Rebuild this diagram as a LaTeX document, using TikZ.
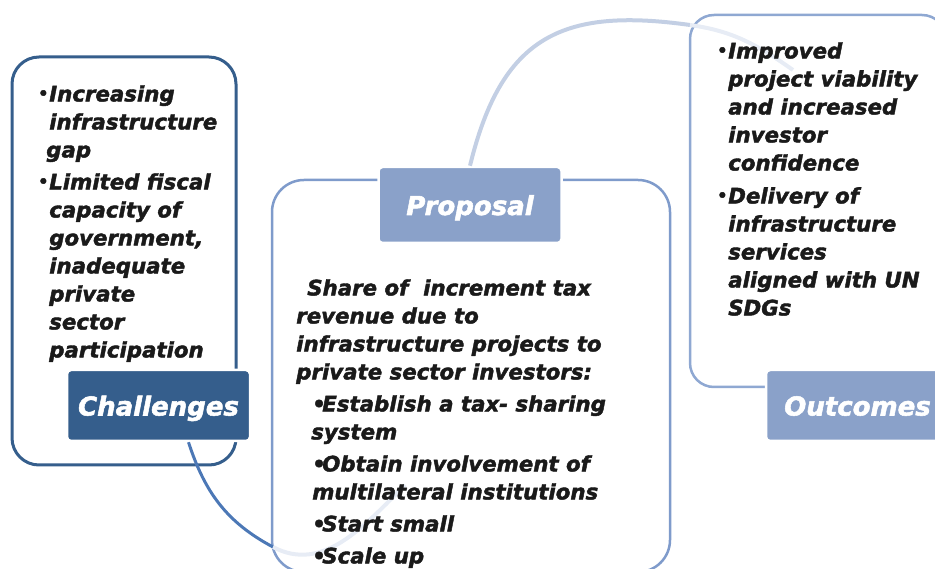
\documentclass[tikz,border=0pt]{standalone}
\usepackage{fontspec}
\setmainfont{DejaVu Sans}[BoldItalicFont={DejaVu Sans Bold Oblique},BoldItalicFeatures={FakeBold=2}]
\usepackage{tikz}
\usetikzlibrary{positioning}
\usepackage{xcolor}
\definecolor{darkblue}{HTML}{355E8C}
\definecolor{midblue}{HTML}{7F9BCB}
\definecolor{lightblue}{HTML}{8FA8D2}
\definecolor{tagblue}{HTML}{8AA1C9}
\definecolor{arcblue}{HTML}{4C78B6}
\definecolor{paleblue}{HTML}{C3CFE4}
\definecolor{fadeblue}{HTML}{E7ECF5}
\definecolor{ink}{HTML}{1A1A1A}
\newcommand{\bul}{\makebox[12pt][l]{\hspace{1pt}\raisebox{2.5pt}{\fontsize{16}{16}\selectfont\textbullet}}}
\newcommand{\dotitem}{\makebox[10pt][l]{\textbullet}}

\begin{document}
\begin{tikzpicture}[x=1pt,y=1pt,line width=2.5pt,
        box node/.style={rectangle,draw,rounded corners=#1,inner sep=0pt},
        tag node/.style={rectangle,draw=white,line width=2.5pt,rounded corners=4pt,
          minimum width=183pt,minimum height=71pt,inner sep=0pt,text=white,
          text height=20pt,text depth=0pt,
          font=\fontsize{26}{30}\selectfont\bfseries\itshape},
        text node/.style={anchor=north west,align=left,inner sep=0pt,text=ink,
          font=\fontsize{21.3}{28}\selectfont\bfseries\itshape}]

    \useasboundingbox (0,0) rectangle (935,568);

    \node[box node=27pt,draw=darkblue,line width=3pt,minimum width=224pt,minimum height=408pt] (b1) at (124,307) {};
    \node[box node=32pt,draw=midblue,minimum width=398pt,minimum height=392pt] (b2) at (471,192) {};
    \node[box node=24pt,draw=lightblue,minimum width=256pt,minimum height=372pt] (b3) at (818,367) {};

    \node[tag node,fill=darkblue] (1) at (158.5,162.5) {Challenges};
    \node[tag node,fill=tagblue,minimum height=76pt] (2) at (470,363) {Proposal};
    \node[tag node,fill=tagblue] (3) at (857.5,162.5) {Outcomes};

    \coordinate (c1) at (273,21);
    \coordinate (c2) at (405,83);
    \coordinate (c3) at (690,543);
    \coordinate (c4) at (793,498);

    \draw[arcblue,line width=3pt] ([xshift=30pt]1.south) to[out=-72,in=152] (c1);
    \draw[fadeblue,line width=4pt] (c1) to[out=-28,in=-135] (c2);
    \draw[paleblue,line width=4pt] (2.north) .. controls (501.5,531) and (561,561) .. (c3);
    \draw[fadeblue,line width=4pt] (c3) to[out=-8,in=145] (c4);

    \node[text node] (t1) at (36,484) {\bul Increasing\\
      \hspace*{12pt}infrastructure\\
      \hspace*{9pt}gap\\[4pt]
      \bul Limited fiscal\\
      \hspace*{12pt}capacity of\\
      \hspace*{12pt}government,\\
      \hspace*{12pt}inadequate\\
      \hspace*{12pt}private\\
      \hspace*{12pt}sector\\
      \hspace*{12pt}participation};

    \node[text node] (t2) at (295,290) {\hspace*{11pt}Share of\ \ increment tax\\
      revenue due to\\
      infrastructure projects to\\
      private sector investors:\\[4pt]
      \hspace*{16pt}\dotitem Establish a tax- sharing\\
      \hspace*{15pt}system\\[4pt]
      \hspace*{16pt}\dotitem Obtain involvement of\\
      \hspace*{16pt}multilateral institutions\\[4pt]
      \hspace*{16pt}\dotitem Start small\\[4pt]
      \hspace*{16pt}\dotitem Scale up};

    \node[text node] (t3) at (715,527) {\bul Improved\\
      \hspace*{12pt}project viability\\
      \hspace*{12pt}and increased\\
      \hspace*{12pt}investor\\
      \hspace*{12pt}confidence\\[5pt]
      \bul Delivery of\\
      \hspace*{12pt}infrastructure\\
      \hspace*{12pt}services\\
      \hspace*{12pt}aligned with UN\\
      \hspace*{12pt}SDGs};

\end{tikzpicture}
\end{document}
